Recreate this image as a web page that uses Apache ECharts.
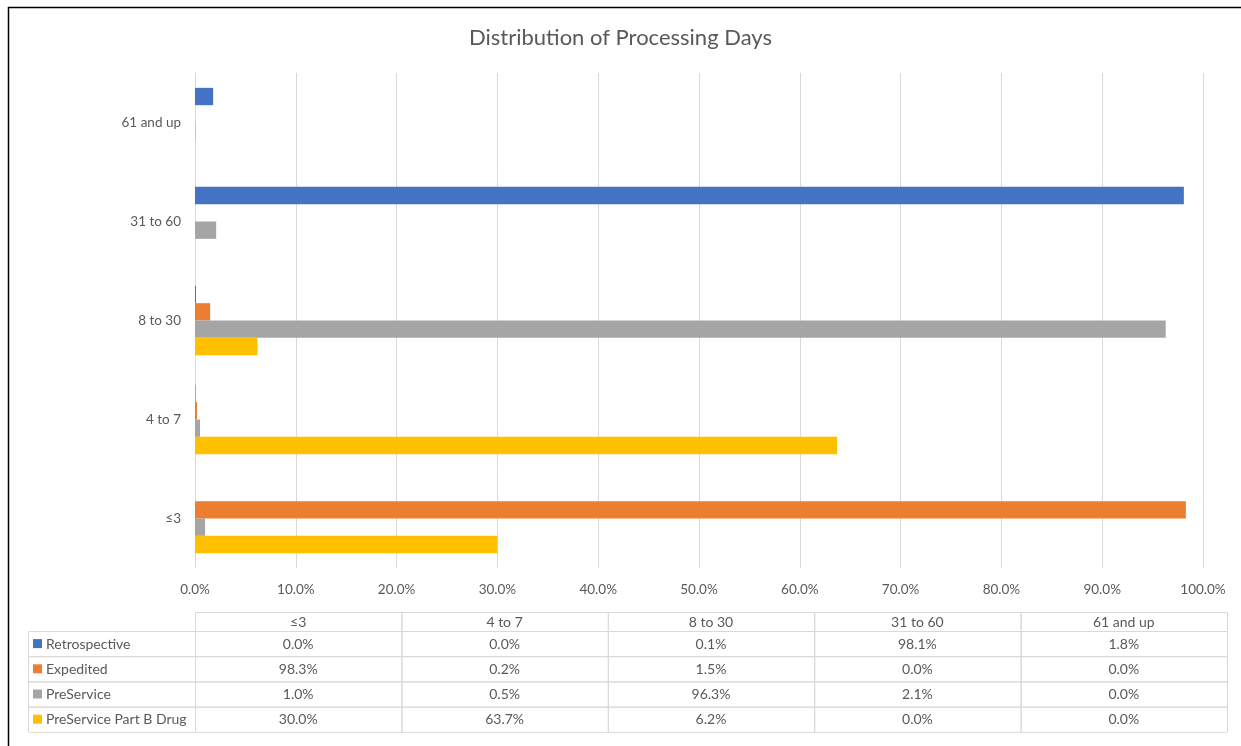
<!DOCTYPE html>
<html>
<head>
<meta charset="utf-8">
<script src="https://cdn.jsdelivr.net/npm/echarts@6/dist/echarts.min.js"></script>
<style>
  html, body { margin: 0; padding: 0; background: #fff; }
  #chart { width: 1241px; height: 746px; }
</style>
</head>
<body>
<div id="chart"></div>
<script>
// categories, bottom to top as on the chart
const categories = ['≤3', '4 to 7', '8 to 30', '31 to 60', '61 and up'];
const seriesNames = ['Retrospective', 'Expedited', 'PreService', 'PreService Part B Drug'];
const colors = ['#4472C4', '#ED7D31', '#A5A5A5', '#FFC000'];

// percent values per category
const retrospective = [0.0, 0.04, 0.1, 98.1, 1.8];
const expedited = [98.3, 0.2, 1.5, 0.0, 0.0];
const preService = [1.0, 0.5, 96.3, 2.1, 0.04];
const partBDrug = [30.0, 63.7, 6.2, 0.0, 0.0];
const allValues = [retrospective, expedited, preService, partBDrug];

const xTicks = [0, 10, 20, 30, 40, 50, 60, 70, 80, 90, 100];

const textColor = '#595959';
const lineColor = '#d9d9d9';
const font = 'Lato, "Noto Sans", sans-serif';

const myChart = echarts.init(document.getElementById('chart'));

// data table under the chart
const tableLeft = 195, tableRight = 1227, labelLeft = 28;
const headTop = 612, headH = 19, rowH = 25.2;
const colW = (tableRight - tableLeft) / categories.length;
const g = [];
// outer frame (cropped)
g.push({ type: 'polyline', shape: { points: [[8.5, 760], [8.5, 7.5], [1260, 7.5]] },
  style: { stroke: '#000', lineWidth: 1.5, fill: null }, silent: true });
// header cells
categories.forEach((c, i) => {
  const x = tableLeft + i * colW;
  g.push({ type: 'rect', shape: { x: x + 0.5, y: headTop + 0.5, width: colW, height: headH },
    style: { fill: null, stroke: lineColor, lineWidth: 1 } });
  g.push({ type: 'text', x: x + colW / 2, y: headTop + headH / 2 + 0.5,
    style: { text: c, fill: textColor, font: '14px ' + font, align: 'center', verticalAlign: 'middle' } });
});
seriesNames.forEach((name, r) => {
  const y = headTop + headH + r * rowH;
  g.push({ type: 'rect', shape: { x: labelLeft + 0.5, y: y + 0.5, width: tableLeft - labelLeft, height: rowH },
    style: { fill: null, stroke: lineColor, lineWidth: 1 } });
  g.push({ type: 'rect', shape: { x: 33, y: y + rowH / 2 - 4.5, width: 9, height: 9 },
    style: { fill: colors[r] } });
  g.push({ type: 'text', x: 46, y: y + rowH / 2 + 0.5,
    style: { text: name, fill: textColor, font: '14px ' + font, align: 'left', verticalAlign: 'middle' } });
  categories.forEach((c, i) => {
    const x = tableLeft + i * colW;
    g.push({ type: 'rect', shape: { x: x + 0.5, y: y + 0.5, width: colW, height: rowH },
      style: { fill: null, stroke: lineColor, lineWidth: 1 } });
    g.push({ type: 'text', x: x + colW / 2, y: y + rowH / 2 + 0.5,
      style: { text: allValues[r][i].toFixed(1) + '%', fill: textColor, font: '14px ' + font,
        align: 'center', verticalAlign: 'middle' } });
  });
});

// first series sits at the top of each band
const series = seriesNames.map((name, r) => ({
  name: name,
  type: 'bar',
  data: allValues[r],
  itemStyle: { color: colors[r] },
  barGap: '0%',
  barCategoryGap: '30%',
  z: 2
}));

myChart.setOption({
  animation: false,
  title: {
    text: 'Distribution of Processing Days',
    left: 'center',
    top: 22,
    textStyle: { color: textColor, fontSize: 22, fontWeight: 'normal', fontFamily: font }
  },
  grid: { left: 195, right: 38, top: 73, bottom: 178, containLabel: false },
  xAxis: {
    type: 'value',
    min: 0,
    max: 100,
    interval: 10,
    axisLine: { show: false },
    axisTick: { show: false },
    splitLine: { lineStyle: { color: lineColor, width: 1 } },
    axisLabel: {
      color: textColor, fontSize: 13.5, fontFamily: font, margin: 15,
      formatter: v => (xTicks.includes(v) ? v.toFixed(1) + '%' : '')
    }
  },
  yAxis: {
    type: 'category',
    data: categories,
    axisLine: { show: true, lineStyle: { color: lineColor } },
    axisTick: { show: false },
    axisLabel: { color: textColor, fontSize: 13.5, fontFamily: font, margin: 14 }
  },
  series: series,
  graphic: g
});
</script>
</body>
</html>
